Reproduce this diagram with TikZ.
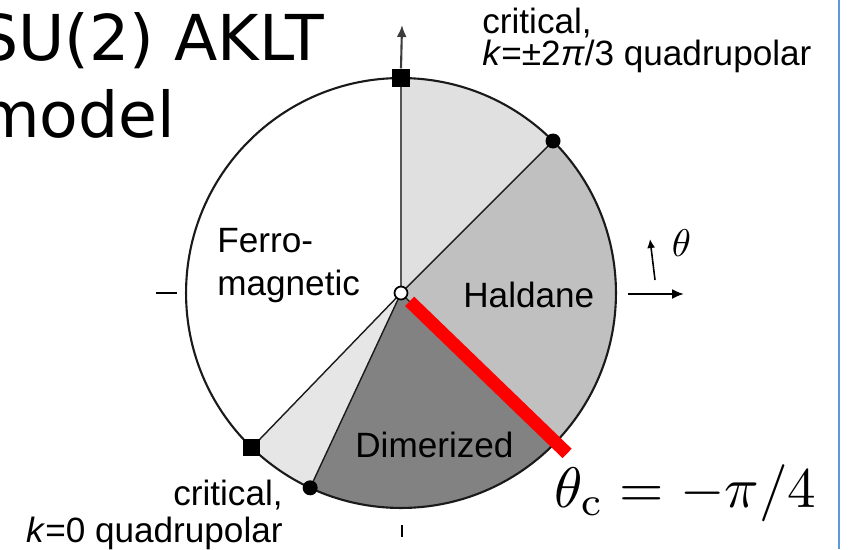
\documentclass[tikz,border=0pt]{standalone}
\usepackage[no-math]{fontspec}
\setmainfont{Liberation Sans}
\newfontfamily\titlefont{DejaVu Sans}
\usepackage{xcolor}
\definecolor{cLine}{HTML}{1A1A1A}
\definecolor{cAxis}{HTML}{555555}
\definecolor{cCritUp}{HTML}{E0E0E0}
\definecolor{cCritLow}{HTML}{E6E6E6}
\definecolor{cHald}{HTML}{C0C0C0}
\definecolor{cDim}{HTML}{828282}
\definecolor{cRed}{HTML}{FF0000}
\definecolor{cFrame}{HTML}{5B9BD5}
\usepackage{tikz}
\usetikzlibrary{arrows.meta}
\tikzset{
  phase-label/.style={inner sep=0pt,anchor=base west,font=\fontsize{20}{24}\selectfont},
  marker-square/.style={fill=black,rectangle,minimum size=0.37cm,inner sep=0pt},
  marker-dot/.style={fill=black,circle,minimum size=0.3cm,inner sep=0pt},
  marker-origin/.style={draw=black,fill=white,circle,minimum size=0.26cm,inner sep=0pt,line width=1pt},
  boundary/.style={draw=cLine,line width=0.8pt},
  % axes: plain black arrows, the upward one in grey
  arrow/.style={-{Latex[length=2.4mm,width=2mm]},line width=1.2pt,draw=black},
  arrow-small/.style={-{Latex[length=1.8mm,width=1.6mm]},line width=0.9pt,draw=black},
  critical-line/.style={draw=cRed,line width=7.4pt},
  math-label/.style={inner sep=0pt,anchor=base west,font=\normalsize},
}

\begin{document}
\begin{tikzpicture}[x=0.02cm,y=0.02cm]
  \useasboundingbox (0,0) rectangle (851,549);
  \coordinate (c) at (401,256);
  \path (c) ++(90:4.3cm) coordinate (p-top);
  \path (c) ++(45:4.3cm) coordinate (p-up);
  \path (c) ++(-45:4.3cm) coordinate (p-hd);
  \path (c) ++(-115:4.3cm) coordinate (p-low);
  \path (c) ++(-134:4.3cm) coordinate (p-sq);
  % phases
  \fill[cCritUp] (c) -- (p-up) arc[start angle=45,end angle=90,radius=4.3cm] -- cycle;
  \fill[cHald] (c) -- (p-hd) arc[start angle=-45,end angle=45,radius=4.3cm] -- cycle;
  \fill[cDim] (c) -- (p-low) arc[start angle=-115,end angle=-45,radius=4.3cm] -- cycle;
  \fill[cCritLow] (c) -- (p-sq) arc[start angle=-134,end angle=-115,radius=4.3cm] -- cycle;
  \draw[cLine,line width=1.2pt] (c) circle[radius=4.3cm];
  \draw[boundary] (c) -- (p-up);
  \draw[boundary] (c) -- (p-hd);
  \draw[boundary] (c) -- (p-low);
  \draw[boundary] (c) -- (p-sq);
  \draw[cAxis,line width=1.4pt] (c) -- (p-top);

  \node[marker-square] (sq-top) at (p-top) {};
  \node[marker-square,minimum size=0.34cm] (sq-low) at (p-sq) {};
  \node[marker-dot] (dot-up) at (p-up) {};
  \node[marker-dot] (dot-low) at (p-low) {};

  % axes and ticks
  \coordinate (top-tip) at (402,524);
  \draw[arrow,draw=cAxis!70!black] (sq-top.north) -- (top-tip);
  \coordinate (right-tail) at (628,255);
  \coordinate (right-tip) at (684,255);
  \draw[arrow] (right-tail) -- (right-tip);
  \coordinate (th-tail) at (655,269);
  \coordinate (th-tip) at (650,310);
  \draw[arrow-small] (th-tail) -- (th-tip);
  \coordinate (tick-l1) at (156,256);
  \coordinate (tick-l2) at (177,256);
  \draw[line width=1.7pt] (tick-l1) -- (tick-l2);
  \coordinate (tick-b1) at (402,24);
  \coordinate (tick-b2) at (402,12);
  \draw[line width=1.1pt] (tick-b1) -- (tick-b2);

  \path (c) ++(-44:0.24cm) coordinate (red-start);
  \path (c) ++(-44:4.62cm) coordinate (red-end);
  \draw[critical-line] (red-start) -- (red-end);
  \node[marker-origin] (origin) at (c) {};

  \coordinate (frame-top) at (839,549);
  \coordinate (frame-bot) at (839,0);
  \draw[cFrame,line width=1.1pt] (frame-top) -- (frame-bot);

  % labels (base = last line)
  \node[inner sep=0pt,anchor=base west,align=left,font=\titlefont\fontsize{36}{43.7}\selectfont]
    (title) at (-22,412) {SU(2) AKLT\\model};
  \node[phase-label,align=left,font=\fontsize{20}{17}\selectfont]
    (lbl-crit-up) at (482,484) {critical,\\\textit{k}=±2\textit{π}/3 quadrupolar};
  \node[phase-label,align=left] (lbl-ferro) at (217,254) {Ferro-\\magnetic};
  \node[phase-label] (lbl-hald) at (463,242) {Haldane};
  \node[phase-label] (lbl-dim) at (355,92) {Dimerized};
  \node[phase-label,anchor=base east,align=right,font=\fontsize{20}{21}\selectfont]
    (lbl-crit-low) at (283,7) {critical,\\\textit{k}=0 quadrupolar};
  \node[math-label,scale=2.2] (lbl-theta) at (671,293) {$\theta$};
  \node[math-label,scale=3.25] (lbl-thc) at (553,42) {$\theta_{\mathrm{c}}=-\pi/4$};
\end{tikzpicture}
\end{document}
